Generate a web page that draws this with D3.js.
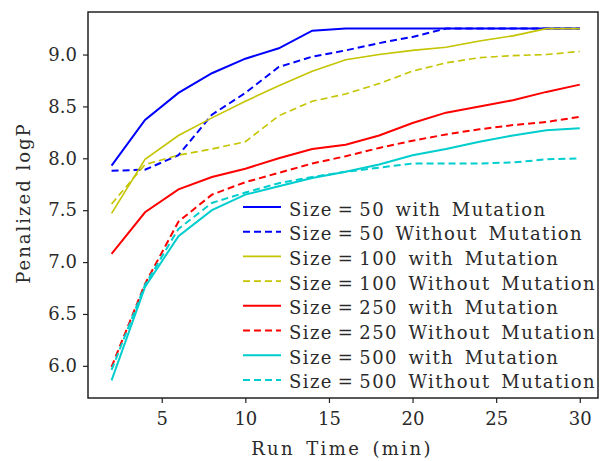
<!DOCTYPE html>
<html lang="en">
<head>
<meta charset="UTF-8">
<script src="https://d3js.org/d3.v7.min.js"></script>
<title>Penalized logP</title>
<style>
    body { margin: 0; background: #fff; }
    svg text { font-family: "DejaVu Serif", serif; fill: #2a2a2a; }
</style>
</head>
<body>
<div id="chart"></div>
<script>
    // Data
    var runTime = [2, 4, 6, 8, 10, 12, 14, 16, 18, 20, 22, 24, 26, 28, 30];
    var size50With = [7.93, 8.37, 8.63, 8.82, 8.96, 9.06, 9.23, 9.25, 9.25, 9.25, 9.25, 9.25, 9.25, 9.25, 9.25];
    var size50Without = [7.88, 7.89, 8.03, 8.42, 8.63, 8.88, 8.98, 9.04, 9.11, 9.17, 9.25, 9.25, 9.25, 9.25, 9.25];
    var size100With = [7.47, 7.99, 8.22, 8.39, 8.55, 8.70, 8.84, 8.95, 9.00, 9.04, 9.07, 9.13, 9.18, 9.25, 9.25];
    var size100Without = [7.56, 7.94, 8.03, 8.09, 8.16, 8.41, 8.55, 8.62, 8.72, 8.84, 8.92, 8.97, 8.99, 9.00, 9.03];
    var size250With = [7.08, 7.48, 7.70, 7.82, 7.90, 8.00, 8.09, 8.13, 8.22, 8.34, 8.44, 8.50, 8.56, 8.64, 8.71];
    var size250Without = [5.99, 6.79, 7.39, 7.65, 7.77, 7.86, 7.95, 8.02, 8.10, 8.17, 8.23, 8.28, 8.32, 8.35, 8.40];
    var size500With = [5.86, 6.76, 7.25, 7.50, 7.65, 7.73, 7.81, 7.87, 7.94, 8.03, 8.09, 8.16, 8.22, 8.27, 8.29];
    var size500Without = [5.96, 6.78, 7.32, 7.57, 7.67, 7.76, 7.82, 7.87, 7.91, 7.95, 7.95, 7.95, 7.96, 7.99, 8.00];

    var seriesNames = [
        "Size\u2009=\u200950 with Mutation",
        "Size\u2009=\u200950 Without Mutation",
        "Size\u2009=\u2009100 with Mutation",
        "Size\u2009=\u2009100 Without Mutation",
        "Size\u2009=\u2009250 with Mutation",
        "Size\u2009=\u2009250 Without Mutation",
        "Size\u2009=\u2009500 with Mutation",
        "Size\u2009=\u2009500 Without Mutation"
    ];
    var seriesValues = [size50With, size50Without, size100With, size100Without,
        size250With, size250Without, size500With, size500Without];
    var xTicks = [5, 10, 15, 20, 25, 30];
    var yTicks = [6.0, 6.5, 7.0, 7.5, 8.0, 8.5, 9.0];

    var colors = ["#0000ff", "#0000ff", "#c4c400", "#c4c400", "#ff0000", "#ff0000", "#00cdcd", "#00cdcd"];

    var width = 604, height = 461;
    var margin = { left: 88, top: 12, right: 6, bottom: 63 };
    var w = width - margin.left - margin.right;
    var h = height - margin.top - margin.bottom;

    var svg = d3.select("#chart")
        .append("svg")
        .attr("width", width)
        .attr("height", height);

    var g = svg.append("g")
        .attr("transform", "translate(" + margin.left + "," + margin.top + ")");

    var x = d3.scaleLinear().domain([0.59, 31.09]).range([0, w]);
    var y = d3.scaleLinear().domain([5.69, 9.41]).range([h, 0]);

    // lines
    var line = d3.line()
        .x(function (d, i) { return x(runTime[i]); })
        .y(function (d) { return y(d); });

    g.selectAll(".series")
        .data(seriesValues)
        .enter().append("path")
        .attr("class", "series")
        .attr("d", line)
        .attr("fill", "none")
        .attr("stroke", function (d, i) { return colors[i]; })
        .attr("stroke-width", function (d, i) { return i == 2 || i == 3 ? 1.6 : 2; })
        .attr("stroke-dasharray", function (d, i) { return i % 2 ? "7,4" : null; });

    // axes
    var xAxis = d3.axisBottom(x).tickValues(xTicks).tickSize(5).tickPadding(9);
    var yAxis = d3.axisLeft(y).tickValues(yTicks).tickSize(5).tickPadding(6)
        .tickFormat(d3.format(".1f"));

    var gx = g.append("g")
        .attr("transform", "translate(0," + h + ")")
        .call(xAxis);
    var gy = g.append("g").call(yAxis);

    [gx, gy].forEach(function (a) {
        a.attr("font-family", null).attr("font-size", null);
        a.select(".domain").remove();
        a.selectAll("line").attr("stroke", "#222").attr("stroke-width", 1.2);
        a.selectAll("text").attr("font-size", 18);
    });

    // frame
    g.append("rect")
        .attr("width", w)
        .attr("height", h)
        .attr("fill", "none")
        .attr("stroke", "#222")
        .attr("stroke-width", 1.5);

    // legend
    var legend = g.append("g")
        .attr("transform", "translate(155,195)");

    var items = legend.selectAll(".item")
        .data(seriesNames)
        .enter().append("g")
        .attr("class", "item")
        .attr("transform", function (d, i) { return "translate(0," + i * 24.7 + ")"; });

    items.append("line")
        .attr("x1", 0).attr("x2", 38)
        .attr("stroke", function (d, i) { return colors[i]; })
        .attr("stroke-width", function (d, i) { return i == 2 || i == 3 ? 1.6 : 2; })
        .attr("stroke-dasharray", function (d, i) { return i % 2 ? "7,4" : null; });

    items.append("text")
        .attr("x", 46)
        .attr("y", 8.5)
        .attr("font-size", 18)
        .style("letter-spacing", "1.4px")
        .style("word-spacing", "3.5px")
        .text(function (d) { return d; });

    // axis titles
    svg.append("text")
        .attr("x", 342)
        .attr("y", 455)
        .attr("text-anchor", "middle")
        .attr("font-size", 18)
        .style("letter-spacing", "2.4px")
        .style("word-spacing", "3px")
        .text("Run Time (min)");

    svg.append("text")
        .attr("transform", "translate(30,203) rotate(-90)")
        .attr("text-anchor", "middle")
        .attr("font-size", 18)
        .style("letter-spacing", "2px")
        .text("Penalized logP");
</script>
</body>
</html>
